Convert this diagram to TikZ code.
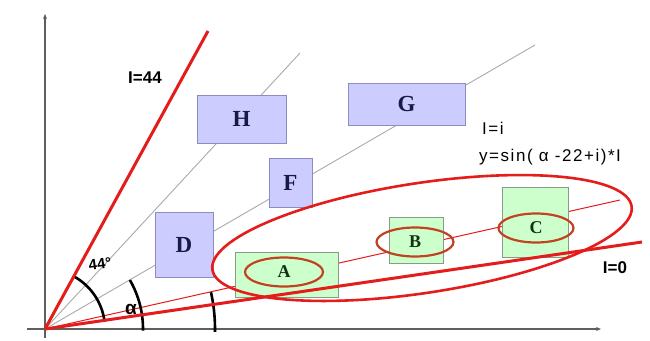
\documentclass[tikz,border=0pt]{standalone}
\usepackage{fontspec}
\setmainfont{Liberation Serif}
\newfontfamily\labelfont{Liberation Sans}
\newfontfamily\widelabelfont[LetterSpace=9]{Liberation Sans}
\usetikzlibrary{shapes.geometric,arrows.meta}
\definecolor{boxblue}{RGB}{204,204,255}
\definecolor{boxblueline}{RGB}{140,140,195}
\definecolor{boxgreen}{RGB}{204,255,204}
\definecolor{boxgreenline}{RGB}{135,155,135}
\definecolor{redline}{RGB}{228,28,28}
\definecolor{smallring}{RGB}{195,65,35}
\definecolor{navyletter}{RGB}{25,25,70}
\definecolor{greenletter}{RGB}{20,50,20}
\definecolor{axiscol}{RGB}{95,95,95}
\definecolor{guidecol}{RGB}{170,170,170}
\tikzset{
  axisline/.style={draw=axiscol,line width=1.2pt,-{Stealth[length=5pt,width=4pt]}},
  guideline/.style={draw=guidecol,line width=0.9pt},
  redray/.style={draw=redline,line width=3pt},
  centerline/.style={draw=redline,line width=1pt},
  anglearc/.style={draw=black,line width=2.6pt},
  bluebox/.style={draw=boxblueline,fill=boxblue,line width=0.8pt,inner sep=0pt,
    font=\fontsize{23}{25}\selectfont\bfseries,text=navyletter},
  greenbox/.style={draw=boxgreenline,fill=boxgreen,line width=0.8pt,inner sep=0pt},
  ring/.style={ellipse,draw=smallring,line width=2.2pt,inner sep=0pt,
    font=\fontsize{18}{20}\selectfont\bfseries,text=greenletter},
  bigring/.style={ellipse,draw=redline,line width=2.6pt,inner sep=0pt},
  lab/.style={font=\labelfont\fontsize{17}{20}\selectfont,inner sep=0pt},
  boldlab/.style={font=\labelfont\fontsize{17}{20}\selectfont\bfseries,inner sep=0pt}
}
\begin{document}
\begin{tikzpicture}[x=1pt,y=-1pt]
\useasboundingbox (0,0) rectangle (650,340);
\fill[white] (0,0) rectangle (650,340);
% key points
\coordinate (O) at (45,329);
\coordinate (ybot) at (45,338);
\coordinate (ytop) at (45,14);
\coordinate (xleft) at (27,329);
\coordinate (xright) at (601,329);
\coordinate (e44) at (208,31);
\coordinate (e0) at (642,242);
\coordinate (g1) at (300,53);
\coordinate (g2) at (535,45);
\coordinate (cend) at (620,200);
% axes
\draw[axisline] (ybot) -- (ytop);
\draw[axisline] (xleft) -- (xright);
% guide lines
\draw[guideline] (O) -- (g1);
\draw[guideline] (O) -- (g2);
\draw[centerline] (O) -- (cend);
% angle arcs
\draw[anglearc] (O) ++(-61:60) arc[start angle=-61,end angle=-7,radius=60];
\draw[anglearc] (O) ++(-30:98) arc[start angle=-30,end angle=1,radius=98];
\draw[anglearc] (O) ++(-12.5:170) arc[start angle=-12.5,end angle=1,radius=170];
% blue boxes
\node[bluebox,minimum width=89pt,minimum height=48pt] (H) at (241.5,119) {H};
\node[bluebox,minimum width=117pt,minimum height=42pt] (G) at (406.5,104) {G};
\node[bluebox,minimum width=43pt,minimum height=49pt] (F) at (290.5,182.5) {F};
\node[bluebox,minimum width=58pt,minimum height=65pt] (D) at (184,244.5) {D};
% green boxes
\node[greenbox,minimum width=103pt,minimum height=45pt] (Abox) at (286.5,274.5) {};
\node[greenbox,minimum width=54pt,minimum height=46pt] (Bbox) at (416,240) {};
\node[greenbox,minimum width=66pt,minimum height=70pt] (Cbox) at (535,222) {};
% small rings
\node[ring,minimum width=78pt,minimum height=29pt] (A) at (284,272) {A};
\node[ring,minimum width=77pt,minimum height=29pt] (B) at (415,242) {B};
\node[ring,minimum width=75pt,minimum height=29pt] (C) at (536,228) {C};
% big ring
\node[bigring,minimum width=424pt,minimum height=110pt,rotate=8.6] (big) at (422,238) {};
% red rays
\draw[redray] (O) -- (e44);
\draw[redray] (O) -- (e0);
% labels
\node[boldlab] (l44) at (145,78) {I=44};
\node[lab,font=\widelabelfont\fontsize{17}{20}\selectfont,anchor=west] (li) at (482,128) {I=i};
\node[lab,font=\widelabelfont\fontsize{17}{20}\selectfont,anchor=west] (lf) at (479,157) {y=sin( α -22+i)*I};
\node[boldlab] (l0) at (615,268) {I=0};
\node[boldlab,font=\labelfont\fontsize{15}{17}\selectfont\bfseries,rotate=8] (la) at (100,264) {44°};
\node[boldlab,font=\labelfont\fontsize{19}{21}\selectfont\bfseries] (lal) at (131,309) {α};
\end{tikzpicture}
\end{document}
